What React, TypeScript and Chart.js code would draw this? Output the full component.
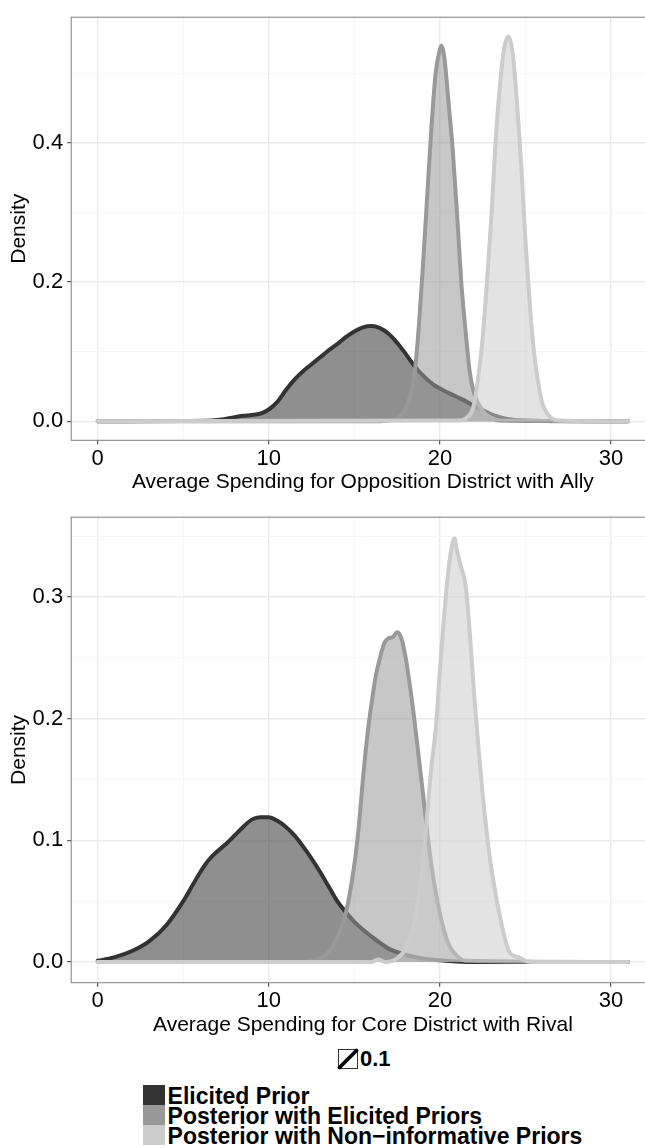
import React, { useEffect, useRef } from "react";
import { Chart, registerables } from "chart.js";

Chart.register(...registerables);

const FONT = "'Liberation Sans', Arial, Helvetica, sans-serif";
Chart.defaults.font.family = FONT;

// ---------- text ----------
const P1_TITLE = "Average Spending for Opposition District with Ally";
const P2_TITLE = "Average Spending for Core District with Rival";
const Y_TITLE = "Density";
const SERIES_NAMES = [
  "Elicited Prior",
  "Posterior with Elicited Priors",
  "Posterior with Non\u2212informative Priors",
];
const SIZE_LEGEND_LABEL = "0.1";

// ---------- ticks ----------
const X_TICKS = [0, 5, 10, 15, 20, 25, 30];
const X_LABELS = ["0", "", "10", "", "20", "", "30"];
const P1_Y_TICKS = [0, 0.1, 0.2, 0.3, 0.4, 0.5];
const P1_Y_LABELS = ["0.0", "", "0.2", "", "0.4", ""];
const P2_Y_TICKS = [0, 0.05, 0.1, 0.15, 0.2, 0.25, 0.3, 0.35];
const P2_Y_LABELS = ["0.0", "", "0.1", "", "0.2", "", "0.3", ""];

// ---------- data: panel 1 (Opposition District with Ally) ----------
const p1PriorX = [0, 5, 7, 8, 8.5, 9, 9.5, 10, 10.5, 11, 11.5, 12, 12.5, 13, 13.5, 14, 14.5, 15, 15.5, 16, 16.5, 17, 17.5, 18, 18.5, 19, 19.5, 20, 20.5, 21, 21.5, 22, 22.5, 23, 23.5, 24, 25, 26, 31];
const p1PriorY = [0, 0.0005, 0.002, 0.006, 0.008, 0.009, 0.011, 0.017, 0.028, 0.045, 0.06, 0.072, 0.082, 0.092, 0.102, 0.111, 0.121, 0.129, 0.135, 0.137, 0.134, 0.126, 0.113, 0.097, 0.08, 0.066, 0.055, 0.047, 0.041, 0.035, 0.029, 0.022, 0.016, 0.01, 0.006, 0.003, 0.001, 0.0003, 0];

const p1PostElicX = [0, 16.5, 17, 17.5, 18, 18.25, 18.5, 18.75, 19, 19.25, 19.5, 19.75, 20, 20.1, 20.25, 20.5, 20.75, 21, 21.25, 21.5, 21.75, 22, 22.5, 23, 23.5, 31];
const p1PostElicY = [0, 0, 0.001, 0.004, 0.018, 0.035, 0.065, 0.13, 0.22, 0.32, 0.42, 0.5, 0.535, 0.54, 0.525, 0.46, 0.39, 0.3, 0.2, 0.13, 0.07, 0.04, 0.015, 0.005, 0.001, 0];

const p1PostNonX = [0, 21, 21.5, 22, 22.25, 22.5, 22.75, 23, 23.25, 23.5, 23.75, 24, 24.25, 24.5, 24.75, 25, 25.25, 25.5, 25.75, 26, 26.5, 27, 31];
const p1PostNonY = [0, 0.001, 0.004, 0.025, 0.065, 0.12, 0.2, 0.29, 0.4, 0.48, 0.535, 0.553, 0.53, 0.46, 0.37, 0.26, 0.17, 0.1, 0.055, 0.025, 0.005, 0.001, 0];

// ---------- data: panel 2 (Core District with Rival) ----------
const p2PriorX = [0, 1, 2, 3, 4, 5, 6, 6.5, 7, 7.5, 8, 8.5, 9, 9.5, 10, 10.5, 11, 11.5, 12, 12.5, 13, 13.5, 14, 14.5, 15, 16, 17, 18, 19, 20, 21, 22, 31];
const p2PriorY = [0.001, 0.004, 0.009, 0.017, 0.03, 0.05, 0.074, 0.084, 0.091, 0.097, 0.104, 0.111, 0.117, 0.119, 0.119, 0.116, 0.111, 0.104, 0.095, 0.085, 0.074, 0.062, 0.05, 0.041, 0.033, 0.021, 0.011, 0.006, 0.003, 0.0015, 0.0005, 0, 0];

const p2PostElicX = [0, 12, 13, 13.5, 14, 14.5, 15, 15.25, 15.5, 15.75, 16, 16.25, 16.5, 16.75, 17, 17.25, 17.5, 17.75, 18, 18.25, 18.5, 18.75, 19, 19.25, 19.5, 20, 20.5, 21, 21.5, 31];
const p2PostElicY = [0, 0, 0.003, 0.008, 0.02, 0.04, 0.08, 0.11, 0.15, 0.185, 0.212, 0.235, 0.25, 0.262, 0.266, 0.267, 0.271, 0.266, 0.25, 0.227, 0.2, 0.17, 0.14, 0.108, 0.08, 0.04, 0.015, 0.005, 0.001, 0];

const p2PostNonX = [0, 16, 16.4, 16.8, 17.5, 18, 18.5, 19, 19.25, 19.5, 19.75, 20, 20.25, 20.5, 20.75, 20.85, 21, 21.25, 21.5, 21.75, 22, 22.25, 22.5, 22.75, 23, 23.5, 24, 24.3, 24.6, 25, 25.5, 31];
const p2PostNonY = [0, 0, 0.002, 0, 0.003, 0.011, 0.032, 0.08, 0.12, 0.16, 0.19, 0.24, 0.285, 0.322, 0.345, 0.348, 0.338, 0.324, 0.31, 0.27, 0.22, 0.177, 0.138, 0.105, 0.078, 0.038, 0.01, 0.005, 0.004, 0.001, 0, 0];

// ---------- styles ----------
const SERIES_LINE = ["#333333", "#999999", "#cccccc"];
const SERIES_FILL = ["rgba(51,51,51,0.55)", "rgba(153,153,153,0.55)", "rgba(204,204,204,0.55)"];
const MAJOR_GRID = "#ebebeb";
const MINOR_GRID = "#f6f6f6";
const TICK_COLOR = "#333333";
const BORDER_COLOR = "#7f7f7f";

const X_MIN = -1.55;
const X_MAX = 32.55;
const CANVAS_W = 700;
const PAD_RIGHT = 45.4;
const Y_AXIS_W = 71.2;

const panelBorder = {
  id: "panelBorder",
  afterDraw(chart: any) {
    const { ctx, chartArea: a } = chart;
    ctx.save();
    ctx.strokeStyle = BORDER_COLOR;
    ctx.lineWidth = 1;
    ctx.strokeRect(a.left, a.top, a.right - a.left, a.bottom - a.top);
    ctx.restore();
  },
};

type Spec = {
  series: { x: number[]; y: number[] }[];
  yTicks: number[];
  yLabels: string[];
  yMin: number;
  yMax: number;
  title: string;
  top: number;
  height: number;
  padTop: number;
  xAxisH: number;
  titlePadBottom: number;
};

function Panel({ spec }: { spec: Spec }) {
  const ref = useRef<HTMLCanvasElement>(null);
  useEffect(() => {
    if (!ref.current) return;
    const datasets = spec.series.map((s, i) => ({
      label: SERIES_NAMES[i],
      data: s.x.map((xv, j) => ({ x: xv, y: s.y[j] })),
      borderColor: SERIES_LINE[i],
      backgroundColor: SERIES_FILL[i],
      fill: "origin",
      borderWidth: 4,
      pointRadius: 0,
      cubicInterpolationMode: "monotone",
      borderCapStyle: "round",
      borderJoinStyle: "round",
      order: 3 - i,
    }));
    const tickFont = { size: 22, family: FONT };
    const chart = new Chart(ref.current, {
      type: "line",
      data: { datasets } as any,
      options: {
        responsive: false,
        animation: false,
        events: [],
        layout: { padding: { left: 0, top: spec.padTop, right: PAD_RIGHT, bottom: 0 } },
        plugins: { legend: { display: false }, tooltip: { enabled: false } },
        scales: {
          x: {
            type: "linear",
            min: X_MIN,
            max: X_MAX,
            afterBuildTicks: (s: any) => {
              s.ticks = X_TICKS.map((v) => ({ value: v }));
            },
            afterFit: (s: any) => {
              s.height = spec.xAxisH;
            },
            ticks: {
              autoSkip: false,
              maxRotation: 0,
              minRotation: 0,
              padding: 1.5,
              color: "#000",
              font: tickFont,
              callback: (_v: any, i: number) => X_LABELS[i],
            },
            grid: {
              color: (c: any) => (X_LABELS[c.index] ? MAJOR_GRID : MINOR_GRID),
              lineWidth: (c: any) => (X_LABELS[c.index] ? 1.4 : 1),
              tickLength: 4,
              tickWidth: 1,
              tickColor: (c: any) => (X_LABELS[c.index] ? TICK_COLOR : "rgba(0,0,0,0)"),
            },
            border: { display: false },
            title: {
              display: true,
              text: spec.title,
              color: "#000",
              font: { size: 21, family: FONT },
              padding: { top: 0, bottom: spec.titlePadBottom },
            },
          },
          y: {
            type: "linear",
            min: spec.yMin,
            max: spec.yMax,
            afterBuildTicks: (s: any) => {
              s.ticks = spec.yTicks.map((v) => ({ value: v }));
            },
            afterFit: (s: any) => {
              s.width = Y_AXIS_W;
            },
            ticks: {
              autoSkip: false,
              padding: 4,
              color: "#000",
              font: tickFont,
              callback: (_v: any, i: number) => spec.yLabels[i],
            },
            grid: {
              color: (c: any) => (spec.yLabels[c.index] ? MAJOR_GRID : MINOR_GRID),
              lineWidth: (c: any) => (spec.yLabels[c.index] ? 1.4 : 1),
              tickLength: 4,
              tickWidth: 1,
              tickColor: (c: any) => (spec.yLabels[c.index] ? TICK_COLOR : "rgba(0,0,0,0)"),
            },
            border: { display: false },
            title: {
              display: true,
              text: Y_TITLE,
              color: "#000",
              font: { size: 21, family: FONT },
              padding: { top: 7, bottom: 0 },
            },
          },
        },
      } as any,
      plugins: [panelBorder],
    });
    return () => chart.destroy();
  }, []);
  return (
    <canvas
      ref={ref}
      width={CANVAS_W}
      height={spec.height}
      style={{ position: "absolute", left: 0, top: spec.top, width: CANVAS_W, height: spec.height, display: "block" }}
    />
  );
}

const PANEL1: Spec = {
  series: [
    { x: p1PriorX, y: p1PriorY },
    { x: p1PostElicX, y: p1PostElicY },
    { x: p1PostNonX, y: p1PostNonY },
  ],
  yTicks: P1_Y_TICKS,
  yLabels: P1_Y_LABELS,
  yMin: -0.0273,
  yMax: 0.5809,
  title: P1_TITLE,
  top: 0,
  height: 500,
  padTop: 10.3,
  xAxisH: 59.7,
  titlePadBottom: 5.5,
};

const PANEL2: Spec = {
  series: [
    { x: p2PriorX, y: p2PriorY },
    { x: p2PostElicX, y: p2PostElicY },
    { x: p2PostNonX, y: p2PostNonY },
  ],
  yTicks: P2_Y_TICKS,
  yLabels: P2_Y_LABELS,
  yMin: -0.017,
  yMax: 0.3655,
  title: P2_TITLE,
  top: 500,
  height: 540,
  padTop: 17,
  xAxisH: 57.3,
  titlePadBottom: 2.5,
};

const LEGEND_SWATCH = ["#333333", "#999999", "#cccccc"];

export default function App() {
  const textStyle: React.CSSProperties = {
    position: "absolute",
    fontFamily: FONT,
    fontWeight: "bold",
    color: "#000",
    whiteSpace: "nowrap",
  };
  return (
    <div
      style={{
        position: "absolute",
        left: 0,
        top: 0,
        width: 645,
        height: 1148,
        overflow: "hidden",
        background: "#fff",
      }}
    >
      <Panel spec={PANEL1} />
      <Panel spec={PANEL2} />
      {/* size legend */}
      <svg style={{ position: "absolute", left: 337, top: 1048 }} width={22} height={22}>
        <rect x={1.5} y={1.5} width={19} height={19} fill="#fff" stroke="#333" strokeWidth={1} />
        <line x1={2.5} y1={19.5} x2={19.5} y2={2.5} stroke="#000" strokeWidth={3.8} strokeLinecap="round" />
      </svg>
      <div style={{ ...textStyle, fontSize: 22, lineHeight: "22px", left: 360, top: 1048.1 }}>{SIZE_LEGEND_LABEL}</div>
      {/* fill legend */}
      {SERIES_NAMES.map((name, i) => (
        <React.Fragment key={name}>
          <div
            style={{
              position: "absolute",
              left: 143,
              top: 1085 + i * 20,
              width: 22,
              height: 20,
              background: LEGEND_SWATCH[i],
            }}
          />
          <div style={{ ...textStyle, fontSize: 23, lineHeight: "23px", left: 167.6, top: 1084.5 + i * 20 }}>{name}</div>
        </React.Fragment>
      ))}
    </div>
  );
}
